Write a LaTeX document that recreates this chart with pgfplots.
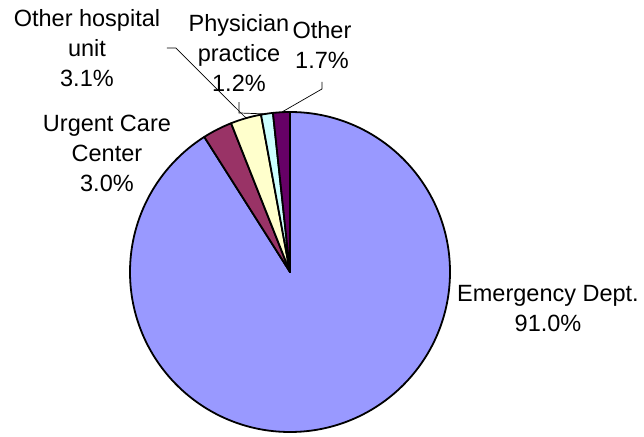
\documentclass[border=0pt]{standalone}
\usepackage{pgfplots}
\pgfplotsset{compat=1.18}
\usepackage{pgfplotstable}
\usepackage{fontspec}
\setmainfont{Liberation Sans}
\definecolor{cEmerg}{HTML}{9999FF}
\definecolor{cUrgent}{HTML}{993366}
\definecolor{cHosp}{HTML}{FFFFCC}
\definecolor{cPhys}{HTML}{CCFFFF}
\definecolor{cOther}{HTML}{660066}

\pgfplotstableread{
label val
Emergency 91.0
Urgent 3.0
Hospital 3.1
Physician 1.2
Other 1.7
}\piedata

\newcommand\pieangle[2]{%
  \pgfplotstablegetelem{#1}{val}\of\piedata
  \pgfmathparse{90-3.6*\cum}\expandafter\xdef\csname pieS#2\endcsname{\pgfmathresult}%
  \pgfmathparse{\cum+\pgfplotsretval}\xdef\cum{\pgfmathresult}%
  \pgfmathparse{90-3.6*\cum}\expandafter\xdef\csname pieE#2\endcsname{\pgfmathresult}%
}

\begin{document}
\begin{tikzpicture}
\xdef\cum{0}
\pieangle{0}{a}\pieangle{1}{b}\pieangle{2}{c}\pieangle{3}{d}\pieangle{4}{e}
\useasboundingbox (0,0) rectangle (644pt,436pt);
\begin{axis}[
  at={(290pt,164pt)}, anchor=origin,
  hide axis, scale only axis,
  width=320pt, height=320pt,
  xmin=-1, xmax=1, ymin=-1, ymax=1,
  clip=false,
]
\addplot[draw=none] coordinates {(0,0)};
\filldraw[fill=cEmerg, draw=black, line width=1.8pt, line join=round] (axis cs:0,0) -- (axis cs:{cos(\pieSa)},{sin(\pieSa)}) arc[start angle=\pieSa, end angle=\pieEa, radius=1] -- cycle;
\filldraw[fill=cUrgent, draw=black, line width=1.8pt, line join=round] (axis cs:0,0) -- (axis cs:{cos(\pieSb)},{sin(\pieSb)}) arc[start angle=\pieSb, end angle=\pieEb, radius=1] -- cycle;
\filldraw[fill=cHosp, draw=black, line width=1.8pt, line join=round] (axis cs:0,0) -- (axis cs:{cos(\pieSc)},{sin(\pieSc)}) arc[start angle=\pieSc, end angle=\pieEc, radius=1] -- cycle;
\filldraw[fill=cPhys, draw=black, line width=1.8pt, line join=round] (axis cs:0,0) -- (axis cs:{cos(\pieSd)},{sin(\pieSd)}) arc[start angle=\pieSd, end angle=\pieEd, radius=1] -- cycle;
\filldraw[fill=cOther, draw=black, line width=1.8pt, line join=round] (axis cs:0,0) -- (axis cs:{cos(\pieSe)},{sin(\pieSe)}) arc[start angle=\pieSe, end angle=\pieEe, radius=1] -- cycle;
% leader lines
\draw[line width=0.7pt] (axis cs:-0.769,1.4) -- (axis cs:-0.713,1.4) -- (axis cs:-0.275,0.9625);
\draw[line width=0.7pt] (axis cs:-0.319,1.062) -- (axis cs:-0.319,0.994) -- (axis cs:-0.144,0.9875);
\draw[line width=0.7pt] (axis cs:0.2,1.1875) -- (axis cs:0.2,1.144) -- (axis cs:-0.05,1.0);
% labels
\begin{scope}[every node/.style={align=center, inner sep=0pt, font=\fontsize{23.5}{30}\selectfont}]
\node at (axis cs:-1.269,1.4) {Other hospital\\unit\\3.1\%};
\node at (axis cs:-0.319,1.369) {Physician\\practice\\1.2\%};
\node at (axis cs:0.2,1.419) {Other\\1.7\%};
\node at (axis cs:-1.144,0.744) {Urgent Care\\Center\\3.0\%};
\node at (axis cs:1.6125,-0.231) {Emergency Dept.\\91.0\%};
\end{scope}
\end{axis}
\end{tikzpicture}
\end{document}
